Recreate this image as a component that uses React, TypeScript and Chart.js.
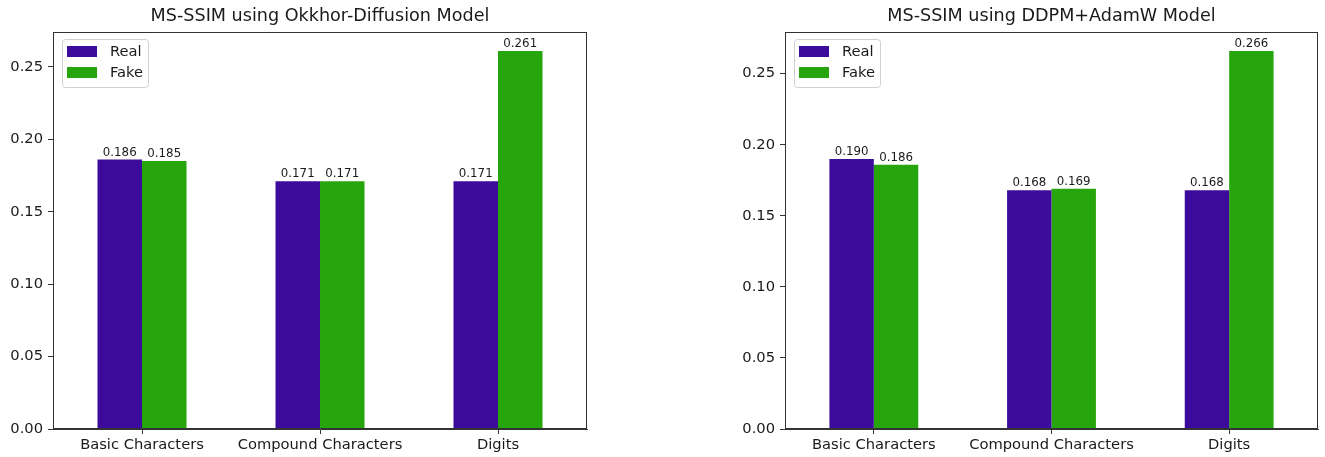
import React, { useEffect, useRef } from "react";
import { Chart, registerables } from "chart.js";

Chart.register(...registerables);

// Categories shared by both panels
const categories = ["Basic Characters", "Compound Characters", "Digits"];

// MS-SSIM scores, Okkhor-Diffusion model
const okkhorReal = [0.186, 0.171, 0.171];
const okkhorFake = [0.185, 0.171, 0.261];

// MS-SSIM scores, DDPM+AdamW model
const ddpmReal = [0.19, 0.168, 0.168];
const ddpmFake = [0.186, 0.169, 0.266];

const seriesLabels = ["Real", "Fake"];
const seriesColors = ["#3d0b9b", "#27a50c"];

const FONT = "'DejaVu Sans', sans-serif";
const INK = "#1a1a1a";
const TICK_SIZE = 14.7;
const TITLE_SIZE = 17.6;
const VALUE_SIZE = 11.8;

// Full rectangle round the plot area
const framePlugin = {
  id: "frame",
  afterDraw(chart: any) {
    const { ctx, chartArea: a } = chart;
    ctx.save();
    ctx.strokeStyle = "#333";
    ctx.lineWidth = 1;
    const l = Math.round(a.left) + 0.5;
    const t = Math.round(a.top) + 0.5;
    const r = Math.round(a.right) - 0.5;
    const b = Math.round(a.bottom) - 0.5;
    ctx.strokeRect(l, t, r - l, b - t);
    ctx.restore();
  },
};

// Value printed above each bar
const valueLabelPlugin = {
  id: "valueLabels",
  afterDatasetsDraw(chart: any) {
    const { ctx } = chart;
    ctx.save();
    ctx.font = `${VALUE_SIZE}px ${FONT}`;
    ctx.fillStyle = INK;
    ctx.textAlign = "center";
    ctx.textBaseline = "alphabetic";
    chart.data.datasets.forEach((ds: any, i: number) => {
      const meta = chart.getDatasetMeta(i);
      meta.data.forEach((bar: any, j: number) => {
        ctx.fillText(Number(ds.data[j]).toFixed(3), bar.x, bar.y - 4);
      });
    });
    ctx.restore();
  },
};

// Framed legend inside the upper-left corner of the plot
const boxLegendPlugin = {
  id: "boxLegend",
  afterDraw(chart: any) {
    const { ctx, chartArea: a } = chart;
    const x = a.left + 9;
    const y = a.top + 7;
    const w = 86;
    const h = 48;
    ctx.save();
    ctx.beginPath();
    ctx.roundRect(x + 0.5, y + 0.5, w, h, 3);
    ctx.fillStyle = "rgba(255,255,255,0.85)";
    ctx.fill();
    ctx.strokeStyle = "#d0d0d0";
    ctx.lineWidth = 1;
    ctx.stroke();
    ctx.font = `${TICK_SIZE}px ${FONT}`;
    ctx.textBaseline = "middle";
    ctx.textAlign = "left";
    chart.data.datasets.forEach((ds: any, i: number) => {
      const sy = y + 7 + i * 21;
      ctx.fillStyle = ds.backgroundColor;
      ctx.fillRect(x + 5, sy, 30, 11);
      ctx.fillStyle = INK;
      ctx.fillText(ds.label, x + 48, sy + 6);
    });
    ctx.restore();
  },
};

type PanelProps = {
  title: string;
  real: number[];
  fake: number[];
  axisWidth: number;
  padRight: number;
  width: number;
  left: number;
};

function Panel({ title, real, fake, axisWidth, padRight, width, left }: PanelProps) {
  const ref = useRef<HTMLCanvasElement>(null);

  useEffect(() => {
    if (!ref.current) return;
    // matplotlib-style autoscale: 5% headroom over the tallest bar
    const yMax = Math.max(...real, ...fake) * 1.05;
    const chart = new Chart(ref.current, {
      type: "bar",
      data: {
        labels: categories,
        datasets: [
          {
            label: seriesLabels[0],
            data: real,
            backgroundColor: seriesColors[0],
            borderWidth: 0,
            categoryPercentage: 0.5,
            barPercentage: 1.0,
          },
          {
            label: seriesLabels[1],
            data: fake,
            backgroundColor: seriesColors[1],
            borderWidth: 0,
            categoryPercentage: 0.5,
            barPercentage: 1.0,
          },
        ],
      },
      options: {
        animation: false,
        responsive: false,
        maintainAspectRatio: false,
        devicePixelRatio: 1,
        layout: { padding: { left: 0, right: padRight, top: 0, bottom: 0 } },
        plugins: {
          legend: { display: false },
          tooltip: { enabled: false },
          title: {
            display: true,
            text: title,
            fullSize: false,
            color: INK,
            font: { family: FONT, size: TITLE_SIZE, weight: "normal", lineHeight: 1.2 },
            padding: { top: 6, bottom: 4.9 },
          },
        },
        scales: {
          x: {
            type: "category",
            offset: true,
            grid: {
              offset: false,
              drawOnChartArea: false,
              drawTicks: true,
              tickLength: 5,
              tickColor: "#333",
            },
            border: { display: true, color: "#333", width: 1 },
            ticks: {
              color: INK,
              font: { family: FONT, size: TICK_SIZE },
              padding: 2,
              maxRotation: 0,
              autoSkip: false,
            },
            afterFit(scale: any) {
              scale.height = 28;
            },
          },
          y: {
            min: 0,
            max: yMax,
            grid: {
              drawOnChartArea: false,
              drawTicks: true,
              tickLength: 5,
              tickColor: "#333",
            },
            border: { display: true, color: "#333", width: 1 },
            ticks: {
              stepSize: 0.05,
              includeBounds: false,
              color: INK,
              font: { family: FONT, size: TICK_SIZE },
              padding: 5,
              callback: (v: any) => Number(v).toFixed(2),
            },
            afterFit(scale: any) {
              scale.width = axisWidth;
            },
          },
        },
      } as any,
      plugins: [valueLabelPlugin, framePlugin, boxLegendPlugin],
    });
    return () => chart.destroy();
  }, [title, real, fake, axisWidth, padRight]);

  return (
    <canvas
      ref={ref}
      width={width}
      height={457}
      style={{ position: "absolute", left, top: 0, width, height: 457 }}
    />
  );
}

export default function App() {
  return (
    <div
      style={{
        position: "absolute",
        left: 0,
        top: 0,
        width: 1325,
        height: 457,
        background: "#fff",
        overflow: "hidden",
      }}
    >
      <Panel
        title="MS-SSIM using Okkhor-Diffusion Model"
        real={okkhorReal}
        fake={okkhorFake}
        axisWidth={53}
        padRight={33}
        width={620}
        left={0}
      />
      <Panel
        title="MS-SSIM using DDPM+AdamW Model"
        real={ddpmReal}
        fake={ddpmFake}
        axisWidth={85}
        padRight={7}
        width={625}
        left={700}
      />
    </div>
  );
}
